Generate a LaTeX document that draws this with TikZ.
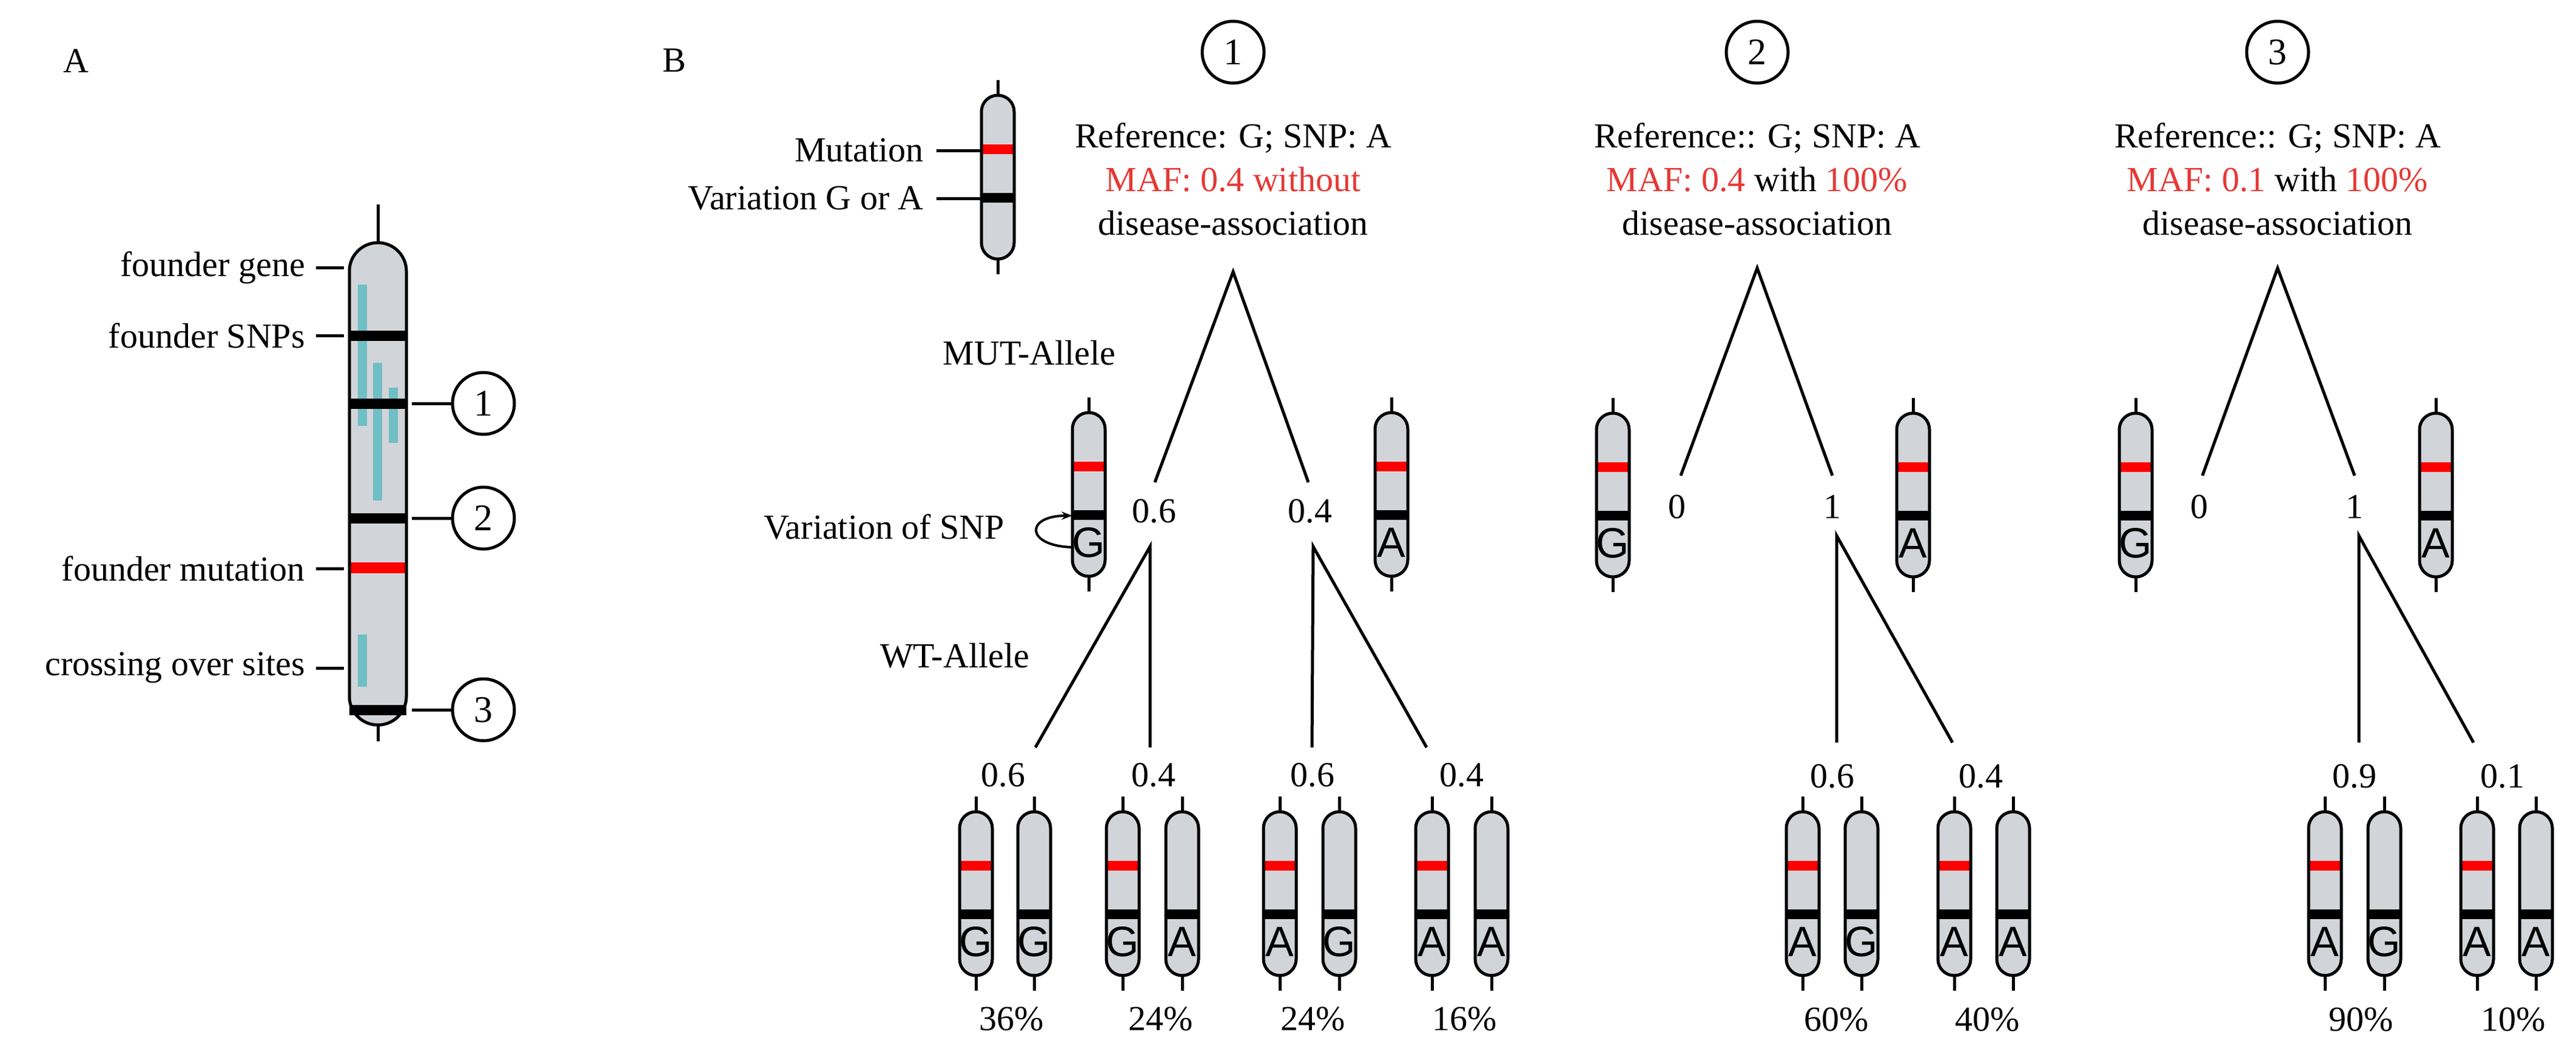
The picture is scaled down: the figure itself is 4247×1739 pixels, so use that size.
\documentclass[tikz,border=0pt]{standalone}
\usetikzlibrary{arrows.meta}
\usepackage{fontspec}
\setmainfont{Liberation Serif}
\newfontfamily\sansf{Liberation Sans}
\definecolor{chromgray}{HTML}{D1D5D9}
\definecolor{mafred}{HTML}{E53935}
\definecolor{teal}{HTML}{6FBFC4}
\definecolor{bandred}{HTML}{FF0000}
\tikzset{
  lw/.style={line width=5pt},
  txt/.style={font=\fontsize{58}{68}\selectfont, inner sep=0pt},
  num/.style={circle, draw, line width=5pt, minimum size=102pt, inner sep=0pt, font=\fontsize{62}{70}\selectfont},
  tree/.style={line width=5pt},
}
\newcommand\chromo[4]{% x, top, letter, red
 \begin{scope}[shift={(#1,#2)}]
  \draw[lw] (0,-25) -- (0,0);
  \draw[lw] (0,270) -- (0,295);
  \fill[chromgray, rounded corners=27pt] (-27,0) rectangle (27,270);
  \ifnum#4=1 \fill[bandred] (-27,81) rectangle (27,97); \fi
  \fill[black] (-27,161) rectangle (27,177);
  \node[font=\sansf\fontsize{70}{70}\selectfont, inner sep=0pt] at (0,214) {#3};
  \draw[lw, rounded corners=27pt] (-27,0) rectangle (27,270);
 \end{scope}}
\begin{document}
\begin{tikzpicture}[x=1pt,y=-1pt]
\useasboundingbox (0,0) rectangle (4247,1739);
% ---------- Panel A ----------
\node[txt] (lA) at (125,100) {A};
\draw[lw] (623,337) -- (623,400);
\draw[lw] (623,1195) -- (623,1222);
\fill[chromgray, rounded corners=47pt] (576,400) rectangle (670,1195);
\fill[teal] (590,469) rectangle (605,702);
\fill[teal] (615,598) rectangle (630,825);
\fill[teal] (641,639) rectangle (656,730);
\fill[teal] (590,1046) rectangle (605,1132);
\fill[black] (576,545) rectangle (670,562);
\fill[black] (576,657) rectangle (670,674);
\fill[black] (576,846) rectangle (670,863);
\fill[bandred] (576,927) rectangle (670,945);
\fill[black] (576,1162) rectangle (670,1179);
\draw[lw, rounded corners=47pt] (576,400) rectangle (670,1195);
\node[txt, anchor=east] (fg) at (503,441) {founder gene};
\node[txt, anchor=east] (fs) at (503,553) {founder SNPs};
\node[txt, anchor=east] (fm) at (503,937) {founder mutation};
\node[txt, anchor=east] (cs) at (503,1101) {crossing over sites};
\foreach \y in {441,553,937,1101} \draw[lw] (521,\y) -- (567,\y);
\node[num] (a1) at (797,665) {1};
\node[num] (a2) at (797,854) {2};
\node[num] (a3) at (797,1170) {3};
\foreach \n/\y in {a1/665,a2/854,a3/1170} \draw[lw] (679,\y) -- (\n.west);
% ---------- Panel B ----------
\node[txt] (lB) at (1112,100) {B};
\chromo{1645}{157}{}{1}
\node[txt, anchor=east] (mut) at (1523,248) {Mutation};
\node[txt, anchor=east] (var) at (1523,327) {Variation G or A};
\draw[lw] (1544,248) -- (1618,248);
\draw[lw] (1544,327) -- (1618,327);
% headers
\node[num] (c1) at (2033,86) {1};
\node[num] (c2) at (2897,86) {2};
\node[num] (c3) at (3755,86) {3};
\node[txt, align=center] (h1) at (2033,295) {Reference: G; SNP: A\\[4pt]\textcolor{mafred}{MAF: 0.4 without}\\[4pt]disease-association};
\node[txt, align=center] (h2) at (2897,295) {Reference:: G; SNP: A\\[4pt]\textcolor{mafred}{MAF: 0.4} with \textcolor{mafred}{100\%}\\[4pt]disease-association};
\node[txt, align=center] (h3) at (3755,295) {Reference:: G; SNP: A\\[4pt]\textcolor{mafred}{MAF: 0.1} with \textcolor{mafred}{100\%}\\[4pt]disease-association};
% tree 1
\coordinate (t1) at (2033,448);
\coordinate (t1l) at (1904,795);
\coordinate (t1r) at (2157,795);
\draw[tree] (t1l) -- (t1) -- (t1r);
\node[txt] (mutal) at (1697,582) {MUT-Allele};
\chromo{1795}{680}{G}{1}
\chromo{2294}{680}{A}{1}
\node[txt] (p06) at (1903,843) {0.6};
\node[txt] (p04) at (2160,843) {0.4};
\node[txt, anchor=east] (vsnp) at (1656,869) {Variation of SNP};
\draw[line width=4pt, -{Stealth[length=18pt]}] (1768,902) .. controls (1690,900) and (1690,850) .. (1768,850);
\node[txt] (wtal) at (1574,1081) {WT-Allele};
\coordinate (s1) at (1896,901);
\coordinate (s2) at (2165,901);
\coordinate (e1) at (1707,1232);
\coordinate (e2) at (1896,1232);
\coordinate (e3) at (2163,1232);
\coordinate (e4) at (2352,1232);
\draw[tree] (e1) -- (s1) -- (e2);
\draw[tree] (e3) -- (s2) -- (e4);
\node[txt] (q1) at (1654,1278) {0.6};
\node[txt] (q2) at (1902,1278) {0.4};
\node[txt] (q3) at (2164,1278) {0.6};
\node[txt] (q4) at (2410,1278) {0.4};
\chromo{1609}{1338}{G}{1}
\chromo{1705}{1338}{G}{0}
\chromo{1851}{1338}{G}{1}
\chromo{1949}{1338}{A}{0}
\chromo{2110}{1338}{A}{1}
\chromo{2208}{1338}{G}{0}
\chromo{2361}{1338}{A}{1}
\chromo{2459}{1338}{A}{0}
\node[txt] (r1) at (1668,1680) {36\%};
\node[txt] (r2) at (1914,1680) {24\%};
\node[txt] (r3) at (2165,1680) {24\%};
\node[txt] (r4) at (2415,1680) {16\%};
% tree 2
\coordinate (t2) at (2897,442);
\coordinate (t2l) at (2771,784);
\coordinate (t2r) at (3021,784);
\draw[tree] (t2l) -- (t2) -- (t2r);
\chromo{2659}{681}{G}{1}
\chromo{3154}{681}{A}{1}
\node[txt] (p20) at (2765,835) {0};
\node[txt] (p21) at (3021,835) {1};
\coordinate (s21) at (3028,883);
\coordinate (e21) at (3028,1224);
\coordinate (e22) at (3219,1224);
\draw[tree] (e21) -- (s21) -- (e22);
\node[txt] (q21) at (3021,1280) {0.6};
\node[txt] (q22) at (3266,1280) {0.4};
\chromo{2972}{1338}{A}{1}
\chromo{3069}{1338}{G}{0}
\chromo{3222}{1338}{A}{1}
\chromo{3319}{1338}{A}{0}
\node[txt] (r21) at (3028,1681) {60\%};
\node[txt] (r22) at (3277,1681) {40\%};
% tree 3
\coordinate (t3) at (3755,442);
\coordinate (t3l) at (3631,784);
\coordinate (t3r) at (3882,784);
\draw[tree] (t3l) -- (t3) -- (t3r);
\chromo{3521}{681}{G}{1}
\chromo{4016}{681}{A}{1}
\node[txt] (p30) at (3626,835) {0};
\node[txt] (p31) at (3882,835) {1};
\coordinate (s31) at (3889,883);
\coordinate (e31) at (3889,1224);
\coordinate (e32) at (4078,1224);
\draw[tree] (e31) -- (s31) -- (e32);
\node[txt] (q31) at (3882,1280) {0.9};
\node[txt] (q32) at (4126,1280) {0.1};
\chromo{3833}{1338}{A}{1}
\chromo{3931}{1338}{G}{0}
\chromo{4084}{1338}{A}{1}
\chromo{4181}{1338}{A}{0}
\node[txt] (r31) at (3893,1681) {90\%};
\node[txt] (r32) at (4144,1681) {10\%};
\end{tikzpicture}
\end{document}
